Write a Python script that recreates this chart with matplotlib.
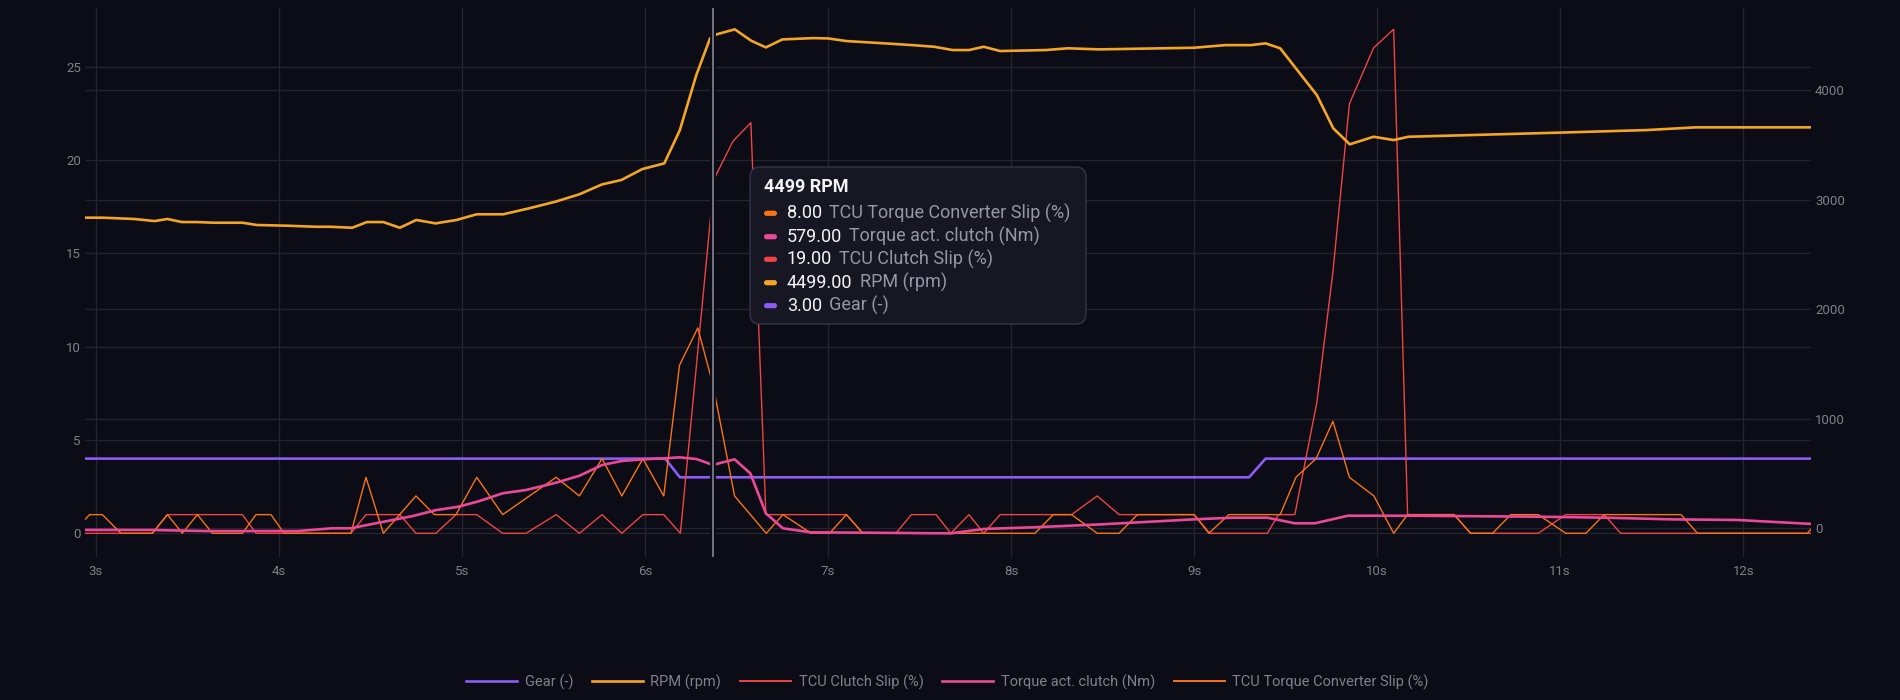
import matplotlib
matplotlib.use("Agg")
import matplotlib.pyplot as plt
from matplotlib.patches import FancyBboxPatch
from matplotlib.transforms import blended_transform_factory
from matplotlib.lines import Line2D

plt.rcParams['font.family'] = ['Roboto', 'DejaVu Sans']

# ---------------- data ----------------
gear_t = [2.94, 6.11, 6.19, 9.30, 9.39, 12.37]
gear_v = [4, 4, 3, 3, 4, 4]

rpm_t = [2.94, 3.035, 3.21, 3.32, 3.39, 3.47, 3.55, 3.64, 3.80, 3.88, 4.04, 4.20, 4.28, 4.40,
         4.48, 4.57, 4.66, 4.75, 4.855, 4.97, 5.08, 5.225, 5.365, 5.51, 5.64, 5.765, 5.87,
         5.985, 6.105, 6.19, 6.28, 6.355, 6.39, 6.49, 6.58, 6.66, 6.75, 6.92, 7.0, 7.10, 7.31,
         7.46, 7.58, 7.68, 7.77, 7.85, 7.94, 8.19, 8.31, 8.48, 9.0, 9.17, 9.31, 9.39, 9.47,
         9.67, 9.76, 9.85, 9.98, 10.09, 10.17, 10.98, 11.47, 11.74, 12.37]
rpm_v = [2837, 2837, 2825, 2806, 2825, 2797, 2797, 2791, 2791, 2770, 2764, 2754, 2754, 2745,
         2797, 2797, 2745, 2816, 2785, 2816, 2868, 2868, 2922, 2983, 3050, 3141, 3181,
         3281, 3333, 3637, 4140, 4475, 4511, 4557, 4453, 4392, 4465, 4477, 4474, 4450, 4429,
         4413, 4398, 4368, 4368, 4398, 4359, 4368, 4384, 4374, 4389, 4413, 4413, 4429, 4384,
         3957, 3653, 3507, 3576, 3546, 3576, 3613, 3637, 3662, 3662]

clutch_t = [2.94, 3.308, 3.39, 3.80, 3.874, 4.393, 4.475, 4.66, 4.748, 4.857, 4.967, 5.08,
            5.222, 5.35, 5.514, 5.641, 5.765, 5.873, 5.988, 6.102, 6.193, 6.378, 6.48, 6.578,
            6.66, 7.10, 7.19, 7.37, 7.455, 7.59, 7.67, 7.77, 7.85, 7.94, 8.33, 8.47, 8.59, 9.0,
            9.085, 9.40, 9.46, 9.55, 9.67, 9.758, 9.848, 9.98, 10.09, 10.166, 10.42, 10.51,
            10.88, 11.03, 11.24, 11.33, 12.37]
clutch_v = [0, 0, 1, 1, 0, 0, 1, 1, 0, 0, 1, 1,
            0, 0, 1, 0, 1, 0, 1, 1, 0, 19, 21, 22,
            1, 1, 0, 0, 1, 1, 0, 1, 0, 1, 1, 2, 1, 1,
            0, 0, 1, 1, 7, 14, 23, 26, 27, 1, 1, 0,
            0, 1, 1, 0, 0]

torque_t = [2.94, 3.3, 3.6, 4.1, 4.29, 4.39, 4.73, 4.86, 4.98, 5.095, 5.222, 5.35, 5.514,
            5.641, 5.765, 5.873, 5.988, 6.10, 6.188, 6.28, 6.37, 6.489, 6.575, 6.66, 6.753,
            6.908, 7.2, 7.67, 7.85, 8.12, 8.49, 9.0, 9.21, 9.40, 9.55, 9.66, 9.84, 10.17,
            10.89, 11.25, 11.6, 11.97, 12.37]
torque_v = [-15, -15, -25, -25, 0, 0, 112, 167, 197, 249, 320, 350, 417,
            480, 578, 615, 630, 639, 648, 633, 579, 630, 502, 137, 0,
            -37, -40, -46, -6, 9, 36, 82, 97, 97, 46, 46, 115, 115,
            106, 97, 82, 76, 40]

tc_t = [2.87, 2.965, 3.035, 3.136, 3.308, 3.39, 3.472, 3.554, 3.636, 3.80, 3.874, 3.956,
        4.028, 4.393, 4.475, 4.57, 4.748, 4.849, 4.967, 5.08, 5.222, 5.514, 5.641, 5.765,
        5.873, 5.988, 6.102, 6.188, 6.288, 6.37, 6.489, 6.662, 6.753, 6.908, 7.008, 7.10,
        7.19, 8.13, 8.23, 8.33, 8.47, 8.59, 8.69, 9.0, 9.08, 9.19, 9.47, 9.556, 9.666, 9.758,
        9.848, 9.982, 10.09, 10.166, 10.42, 10.51, 10.63, 10.73, 10.88, 11.03, 11.14, 11.24,
        11.66, 11.75, 12.35, 12.44]
tc_v = [0, 1, 1, 0, 0, 1, 0, 1, 0, 0, 1, 1,
        0, 0, 3, 0, 2, 1, 1, 3, 1, 3, 2, 4,
        2, 4, 2, 9, 11, 8, 2, 0, 1, 0, 0, 1,
        0, 0, 1, 1, 0, 0, 1, 1, 0, 1, 1, 3, 4, 6,
        3, 2, 0, 1, 1, 0, 0, 1, 1, 0, 0, 1,
        1, 0, 0, 1]

x_ticks = [3, 4, 5, 6, 7, 8, 9, 10, 11, 12]
x_labels = [f"{s}s" for s in x_ticks]
left_ticks = [0, 5, 10, 15, 20, 25]
right_ticks = [0, 1000, 2000, 3000, 4000]

series_names = ["Gear (-)", "RPM (rpm)", "TCU Clutch Slip (%)", "Torque act. clutch (Nm)",
                "TCU Torque Converter Slip (%)"]

cursor_t = 6.372
tooltip_title = "4499 RPM"
tooltip_names = ["TCU Torque Converter Slip (%)", "Torque act. clutch (Nm)",
                 "TCU Clutch Slip (%)", "RPM (rpm)", "Gear (-)"]
tooltip_values = ["8.00", "579.00", "19.00", "4499.00", "3.00"]

# ---------------- style ----------------
BG = '#0b0c15'
GRID = '#22242e'
TICK = '#7e808d'
PURPLE = '#8b5cf6'
AMBER = '#f5a524'
RED = '#ef4444'
PINK = '#ec4899'
ORANGE = '#f97316'
color_of = {"Gear (-)": PURPLE, "RPM (rpm)": AMBER, "TCU Clutch Slip (%)": RED,
            "Torque act. clutch (Nm)": PINK, "TCU Torque Converter Slip (%)": ORANGE}

W, H = 1900, 700
L, R, T, B = 85, 1811, 8, 557

fig = plt.figure(figsize=(W / 100, H / 100), dpi=100, facecolor=BG)
ax = fig.add_axes([L / W, 1 - B / H, (R - L) / W, (B - T) / H])
ax.set_facecolor(BG)
ax2 = ax.twinx()
ax2.patch.set_visible(False)

ax.set_xlim(2.94, 12.37)
ax.set_ylim(-1.27, 28.14)
ax2.set_ylim(-262, 4752)

for a in (ax, ax2):
    for s in a.spines.values():
        s.set_visible(False)

ax.set_xticks(x_ticks)
ax.set_xticklabels(x_labels)
ax.set_yticks(left_ticks)
ax.set_yticklabels([str(v) for v in left_ticks])
ax2.set_yticks(right_ticks)
ax2.set_yticklabels([str(v) for v in right_ticks])

ax.set_axisbelow(True)
ax.grid(True, color=GRID, lw=1.0)
ax2.grid(False)
# right-axis gridlines drawn beneath all series
tr = blended_transform_factory(ax.transAxes, ax2.transData)
for r in right_ticks:
    ax.add_line(Line2D([0, 1], [r, r], transform=tr, color=GRID, lw=1.0, zorder=0.6))

ax.tick_params(axis='both', length=0, colors=TICK, labelsize=9.5)
ax.tick_params(axis='y', pad=3)
ax.tick_params(axis='x', pad=6)
ax2.tick_params(axis='y', length=0, colors=TICK, labelsize=9.5, pad=3)

THICK, THIN = 1.9, 1.0
ax.plot(gear_t, gear_v, color=PURPLE, lw=THICK, zorder=2, solid_joinstyle='round')
ax.plot(clutch_t, clutch_v, color=RED, lw=THIN, zorder=3)
ax.plot(tc_t, tc_v, color=ORANGE, lw=THIN, zorder=4)
ax2.plot(rpm_t, rpm_v, color=AMBER, lw=THICK, zorder=2, solid_joinstyle='round')
ax2.plot(torque_t, torque_v, color=PINK, lw=THICK, zorder=3, solid_joinstyle='round')

# cursor
ax2.axvline(cursor_t, color=BG, lw=4.2, zorder=10)
ax2.axvline(cursor_t, color='#8d909e', lw=1.1, zorder=11)

# legend
handles = [Line2D([], [], color=color_of[n], lw=(THICK if n in ("Gear (-)", "RPM (rpm)",
           "Torque act. clutch (Nm)") else 1.4)) for n in series_names]
fig.legend(handles, series_names, loc='center', bbox_to_anchor=(947.5 / W, 1 - 682 / H),
           ncol=5, frameon=False, fontsize=10.5, labelcolor=TICK, handlelength=3.5,
           handletextpad=0.5, columnspacing=1.3)

# tooltip overlay in pixel coordinates
ov = fig.add_axes([0, 0, 1, 1], zorder=20)
ov.set_xlim(0, W)
ov.set_ylim(H, 0)
ov.axis('off')

bx0, by0, bx1, by1 = 750, 167, 1086, 324
ov.add_patch(FancyBboxPatch((bx0, by0), bx1 - bx0, by1 - by0,
                            boxstyle='round,pad=0,rounding_size=10',
                            facecolor='#161722', edgecolor='#343646', lw=1.0))
ov.text(764, 187, tooltip_title, color='#f4f4f7', fontsize=13, fontweight='bold',
        va='center', ha='left')
renderer = fig.canvas.get_renderer()
row_y = [213.3, 236.7, 259.3, 282.7, 305.7]
for y, name, val in zip(row_y, tooltip_names, tooltip_values):
    ov.add_patch(FancyBboxPatch((764, y - 2.6), 13, 5.2,
                                boxstyle='round,pad=0,rounding_size=2.6',
                                facecolor=color_of[name], edgecolor='none'))
    tv = ov.text(787, y, val, color='#f4f4f7', fontsize=13, va='center', ha='left')
    bb = tv.get_window_extent(renderer)
    ov.text(bb.x1 + 7, y, name, color='#9597a6', fontsize=13, va='center', ha='left')

fig.savefig('out.png', dpi=100, facecolor=BG)
